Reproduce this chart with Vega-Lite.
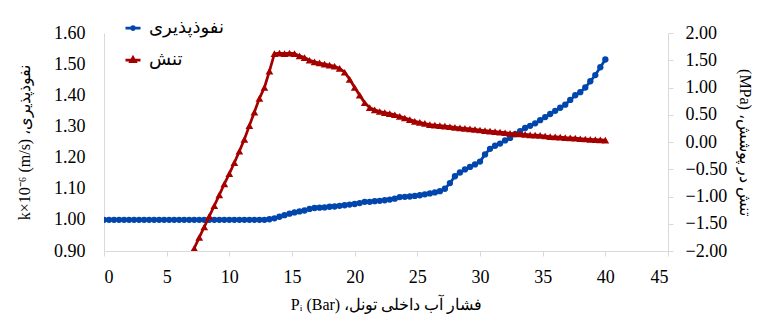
{
  "$schema": "https://vega.github.io/schema/vega-lite/v6.json",
  "autosize": {"type": "none"},
  "width": 564,
  "height": 218,
  "padding": {"left": 104, "top": 33, "right": 91, "bottom": 65},
  "config": {"view": {"stroke": null}, "font": "Liberation Serif"},
  "datasets": {
    "k": [
      {"p": 0, "k": 1.0}, {"p": 0.4, "k": 1.0}, {"p": 0.8, "k": 1.0}, {"p": 1.2, "k": 1.0}, {"p": 1.6, "k": 1.0},
      {"p": 2.0, "k": 1.0}, {"p": 2.4, "k": 1.0}, {"p": 2.8, "k": 1.0}, {"p": 3.2, "k": 1.0}, {"p": 3.6, "k": 1.0},
      {"p": 4.0, "k": 1.0}, {"p": 4.4, "k": 1.0}, {"p": 4.8, "k": 1.0}, {"p": 5.2, "k": 1.0}, {"p": 5.6, "k": 1.0},
      {"p": 6.0, "k": 1.0}, {"p": 6.4, "k": 1.0}, {"p": 6.8, "k": 1.0}, {"p": 7.2, "k": 1.0}, {"p": 7.6, "k": 1.0},
      {"p": 8.0, "k": 1.0}, {"p": 8.4, "k": 1.0}, {"p": 8.8, "k": 1.0}, {"p": 9.2, "k": 1.0}, {"p": 9.6, "k": 1.0},
      {"p": 10.0, "k": 1.0}, {"p": 10.4, "k": 1.0}, {"p": 10.8, "k": 1.0}, {"p": 11.2, "k": 1.0}, {"p": 11.6, "k": 1.0},
      {"p": 12.0, "k": 1.0}, {"p": 12.4, "k": 1.0}, {"p": 12.8, "k": 1.0}, {"p": 13.2, "k": 1.002}, {"p": 13.6, "k": 1.005},
      {"p": 14.0, "k": 1.01}, {"p": 14.4, "k": 1.015}, {"p": 14.8, "k": 1.02}, {"p": 15.2, "k": 1.024}, {"p": 15.6, "k": 1.027},
      {"p": 16.0, "k": 1.03}, {"p": 16.4, "k": 1.035}, {"p": 16.8, "k": 1.038}, {"p": 17.2, "k": 1.039}, {"p": 17.6, "k": 1.04},
      {"p": 18.0, "k": 1.042}, {"p": 18.4, "k": 1.043}, {"p": 18.8, "k": 1.045}, {"p": 19.2, "k": 1.047}, {"p": 19.6, "k": 1.049},
      {"p": 20.0, "k": 1.051}, {"p": 20.4, "k": 1.054}, {"p": 20.8, "k": 1.058}, {"p": 21.2, "k": 1.058}, {"p": 21.6, "k": 1.06},
      {"p": 22.0, "k": 1.061}, {"p": 22.4, "k": 1.063}, {"p": 22.8, "k": 1.065}, {"p": 23.2, "k": 1.068}, {"p": 23.6, "k": 1.073},
      {"p": 24.0, "k": 1.074}, {"p": 24.4, "k": 1.075}, {"p": 24.8, "k": 1.077}, {"p": 25.2, "k": 1.079}, {"p": 25.6, "k": 1.082},
      {"p": 26.0, "k": 1.085}, {"p": 26.4, "k": 1.088}, {"p": 26.8, "k": 1.092}, {"p": 27.2, "k": 1.1}, {"p": 27.6, "k": 1.118},
      {"p": 28.0, "k": 1.14}, {"p": 28.4, "k": 1.152}, {"p": 28.8, "k": 1.162}, {"p": 29.2, "k": 1.17}, {"p": 29.6, "k": 1.178},
      {"p": 30.0, "k": 1.187}, {"p": 30.4, "k": 1.21}, {"p": 30.8, "k": 1.228}, {"p": 31.2, "k": 1.238}, {"p": 31.6, "k": 1.245},
      {"p": 32.0, "k": 1.255}, {"p": 32.4, "k": 1.263}, {"p": 32.8, "k": 1.275}, {"p": 33.2, "k": 1.285}, {"p": 33.6, "k": 1.295},
      {"p": 34.0, "k": 1.302}, {"p": 34.4, "k": 1.31}, {"p": 34.8, "k": 1.32}, {"p": 35.2, "k": 1.33}, {"p": 35.6, "k": 1.34},
      {"p": 36.0, "k": 1.35}, {"p": 36.4, "k": 1.36}, {"p": 36.8, "k": 1.37}, {"p": 37.2, "k": 1.385}, {"p": 37.6, "k": 1.4},
      {"p": 38.0, "k": 1.41}, {"p": 38.4, "k": 1.425}, {"p": 38.8, "k": 1.445}, {"p": 39.2, "k": 1.465}, {"p": 39.6, "k": 1.49},
      {"p": 40.0, "k": 1.515}
    ],
    "s": [
      {"p": 7.2, "s": -1.95}, {"p": 7.6, "s": -1.75}, {"p": 8.0, "s": -1.56}, {"p": 8.4, "s": -1.36}, {"p": 8.8, "s": -1.17},
      {"p": 9.2, "s": -0.97}, {"p": 9.6, "s": -0.77}, {"p": 10.0, "s": -0.58}, {"p": 10.4, "s": -0.38}, {"p": 10.8, "s": -0.17},
      {"p": 11.2, "s": 0.05}, {"p": 11.6, "s": 0.3}, {"p": 12.0, "s": 0.55}, {"p": 12.4, "s": 0.8}, {"p": 12.8, "s": 1.0},
      {"p": 13.2, "s": 1.3}, {"p": 13.6, "s": 1.62}, {"p": 14.0, "s": 1.63}, {"p": 14.4, "s": 1.62}, {"p": 14.8, "s": 1.63},
      {"p": 15.2, "s": 1.62}, {"p": 15.6, "s": 1.58}, {"p": 16.0, "s": 1.55}, {"p": 16.4, "s": 1.5}, {"p": 16.8, "s": 1.47},
      {"p": 17.2, "s": 1.45}, {"p": 17.6, "s": 1.43}, {"p": 18.0, "s": 1.41}, {"p": 18.4, "s": 1.39}, {"p": 18.8, "s": 1.35},
      {"p": 19.2, "s": 1.28}, {"p": 19.6, "s": 1.15}, {"p": 20.0, "s": 1.0}, {"p": 20.4, "s": 0.86}, {"p": 20.8, "s": 0.72},
      {"p": 21.2, "s": 0.63}, {"p": 21.6, "s": 0.59}, {"p": 22.0, "s": 0.56}, {"p": 22.4, "s": 0.54}, {"p": 22.8, "s": 0.52},
      {"p": 23.2, "s": 0.5}, {"p": 23.6, "s": 0.47}, {"p": 24.0, "s": 0.44}, {"p": 24.4, "s": 0.41}, {"p": 24.8, "s": 0.38},
      {"p": 25.2, "s": 0.36}, {"p": 25.6, "s": 0.34}, {"p": 26.0, "s": 0.32}, {"p": 26.4, "s": 0.31}, {"p": 26.8, "s": 0.3},
      {"p": 27.2, "s": 0.29}, {"p": 27.6, "s": 0.28}, {"p": 28.0, "s": 0.27}, {"p": 28.4, "s": 0.26}, {"p": 28.8, "s": 0.25},
      {"p": 29.2, "s": 0.24}, {"p": 29.6, "s": 0.23}, {"p": 30.0, "s": 0.22}, {"p": 30.4, "s": 0.21}, {"p": 30.8, "s": 0.2},
      {"p": 31.2, "s": 0.19}, {"p": 31.6, "s": 0.18}, {"p": 32.0, "s": 0.17}, {"p": 32.4, "s": 0.16}, {"p": 32.8, "s": 0.155},
      {"p": 33.2, "s": 0.15}, {"p": 33.6, "s": 0.14}, {"p": 34.0, "s": 0.13}, {"p": 34.4, "s": 0.125}, {"p": 34.8, "s": 0.12},
      {"p": 35.2, "s": 0.11}, {"p": 35.6, "s": 0.1}, {"p": 36.0, "s": 0.095}, {"p": 36.4, "s": 0.09}, {"p": 36.8, "s": 0.08},
      {"p": 37.2, "s": 0.075}, {"p": 37.6, "s": 0.07}, {"p": 38.0, "s": 0.06}, {"p": 38.4, "s": 0.055}, {"p": 38.8, "s": 0.05},
      {"p": 39.2, "s": 0.045}, {"p": 39.6, "s": 0.04}, {"p": 40.0, "s": 0.035}
    ]
  },
  "encoding": {
    "x": {
      "field": "p", "type": "quantitative",
      "scale": {"domain": [0, 45], "nice": false, "zero": false},
      "axis": {
        "values": [0, 5, 10, 15, 20, 25, 30, 35, 40, 45],
        "grid": false, "domainColor": "#d9d9d9", "tickColor": "#d9d9d9", "tickSize": 5,
        "labelFont": "Liberation Serif", "labelFontSize": 18, "labelColor": "#000", "labelPadding": 12,
        "title": "Pᵢ (Bar)  ،فشار آب داخلی تونل", "titleFont": "Liberation Serif", "titleFontSize": 16,
        "titleFontWeight": "normal", "titleColor": "#000", "titlePadding": 10
      }
    }
  },
  "layer": [
    {
      "data": {"name": "k"},
      "mark": {"type": "line", "strokeWidth": 2.75, "clip": true, "point": {"shape": "circle", "size": 40, "filled": true, "opacity": 1}},
      "encoding": {
        "y": {
          "field": "k", "type": "quantitative",
          "scale": {"domain": [0.9, 1.6], "nice": false, "zero": false},
          "axis": {
            "orient": "left", "values": [0.9, 1.0, 1.1, 1.2, 1.3, 1.4, 1.5, 1.6], "format": ".2f",
            "grid": false, "ticks": false, "domainColor": "#d9d9d9",
            "labelFont": "Liberation Serif", "labelFontSize": 18, "labelColor": "#000", "labelPadding": 19,
            "title": "k×10⁻⁶ (m/s) ،نفوذپذیری", "titleFont": "Liberation Serif", "titleFontSize": 16,
            "titleFontWeight": "normal", "titleColor": "#000", "titlePadding": 21
          }
        },
        "color": {
          "datum": "نفوذپذیری", "type": "nominal",
          "scale": {"domain": ["نفوذپذیری", "تنش"], "range": ["#0046AD", "#A50000"]},
          "legend": {
            "orient": "none", "legendX": 20, "legendY": -14, "title": null, "direction": "vertical",
            "labelFont": "DejaVu Sans", "labelFontSize": 18, "labelColor": "#000", "labelOffset": 7,
            "symbolSize": 225, "symbolStrokeWidth": 2.75, "rowPadding": 14, "symbolOpacity": 1,
            "encode": {
              "symbols": {
                "update": {
                  "shape": {"signal": "datum.index === 1 ? 'M-1,0H1M0,-0.32L0.3,0.2L-0.3,0.2Z' : 'M-1,0H1M-0.2,0A0.2,0.2 0 1,1 0.2,0A0.2,0.2 0 1,1 -0.2,0Z'"},
                  "fill": {"signal": "datum.index === 1 ? '#A50000' : '#0046AD'"},
                  "stroke": {"signal": "datum.index === 1 ? '#A50000' : '#0046AD'"},
                  "fillOpacity": {"value": 1},
                  "strokeOpacity": {"value": 1}
                }
              }
            }
          }
        }
      }
    },
    {
      "data": {"name": "s"},
      "mark": {"type": "line", "strokeWidth": 2.75, "clip": true, "point": {"shape": "triangle-up", "size": 60, "filled": true, "opacity": 1}},
      "encoding": {
        "y": {
          "field": "s", "type": "quantitative",
          "scale": {"domain": [-2, 2], "nice": false, "zero": false},
          "axis": {
            "orient": "right", "values": [-2, -1.5, -1, -0.5, 0, 0.5, 1, 1.5, 2], "format": ".2f",
            "grid": false, "ticks": true, "tickSize": 5, "tickColor": "#d9d9d9", "domainColor": "#d9d9d9",
            "labelFont": "Liberation Serif", "labelFontSize": 18, "labelColor": "#000", "labelPadding": 12,
            "title": "(MPa) ،تنش در پوشش", "titleFont": "Liberation Serif", "titleFontSize": 16,
            "titleFontWeight": "normal", "titleColor": "#000", "titlePadding": 10
          }
        },
        "color": {"datum": "تنش", "type": "nominal"}
      }
    }
  ],
  "resolve": {"scale": {"y": "independent"}}
}
